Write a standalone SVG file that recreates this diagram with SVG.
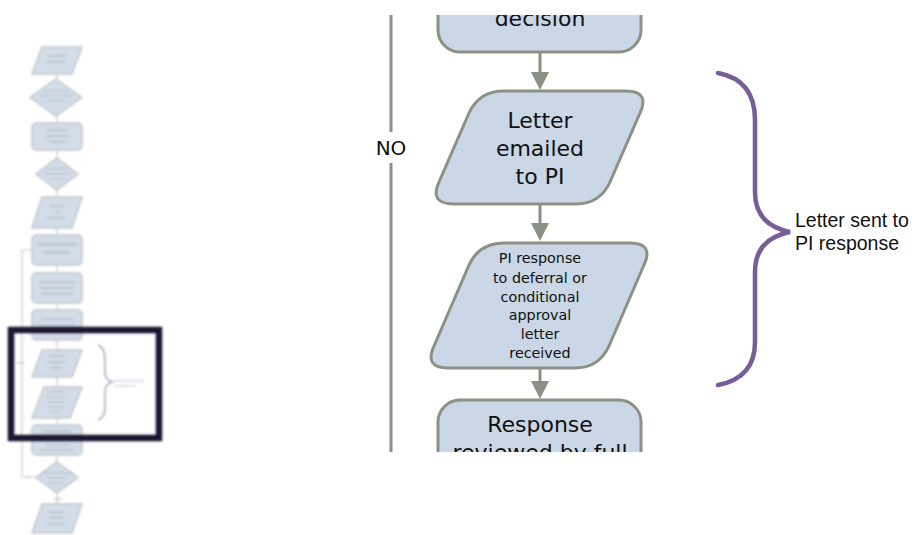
<svg xmlns="http://www.w3.org/2000/svg" width="924" height="535" viewBox="0 0 924 535">
<defs>
<style>
.node{fill:#c9d7e6;stroke:#8b9184;stroke-width:3}
.wire{stroke:#8b9184;stroke-width:3;fill:none}
.head{fill:#8b9184}
.big{font-family:"DejaVu Sans",Verdana,sans-serif;font-size:22px;fill:#111;text-anchor:middle}
.small{font-family:"DejaVu Sans",Verdana,sans-serif;font-size:14.3px;fill:#111;text-anchor:middle}
.lbl{font-family:"DejaVu Sans",Verdana,sans-serif;font-size:20px;fill:#111;text-anchor:middle}
.note{font-family:"Liberation Sans",Arial,sans-serif;font-size:19.5px;fill:#111}
.brace{fill:none;stroke:#775e99;stroke-width:4.5;stroke-linecap:round}
.tn{fill:#d3dde9;stroke:#c0c7ca;stroke-width:1.5}
.tw{stroke:#c8ccc6;stroke-width:1.2;fill:none}
.sm{fill:#a3aebb}
</style>
<clipPath id="view"><rect x="360" y="15" width="320" height="437"/></clipPath>
<filter id="blur" x="-10%" y="-10%" width="120%" height="120%"><feGaussianBlur stdDeviation="1"/></filter>
<filter id="blur2" x="-10%" y="-10%" width="120%" height="120%"><feGaussianBlur stdDeviation="0.9"/></filter>
</defs>
<rect width="924" height="535" fill="#ffffff"/>

<!-- thumbnail overview -->
<g id="thumbnail" filter="url(#blur)">
<g class="tw">
<path d="M57 74V79M57 116V123M57 150V158M57 190V197M57 228V235M57 265V273M57 303V310M57 340V350M57 377V387M57 418V425M57 455V462M57 493V504"/>
<path d="M37 477H22V250H32"/>
</g>
<path class="tn" d="M42 47H82L72 74H32Z"/>
<path class="tn" d="M56 79L82 97.5L56 116L30 97.5Z"/>
<rect class="tn" x="32" y="123" width="50" height="27" rx="4"/>
<path class="tn" d="M57 158L78 174L57 190L36 174Z"/>
<path class="tn" d="M42 197H82L72 228H32Z"/>
<rect class="tn" x="32" y="235" width="50" height="30" rx="4"/>
<rect class="tn" x="32" y="273" width="50" height="30" rx="4"/>
<rect class="tn" x="32" y="310" width="50" height="30" rx="4"/>
<path class="tn" d="M42 350H82L72 377H32Z"/>
<path class="tn" d="M44 387H82L70 418H32Z"/>
<rect class="tn" x="32" y="425" width="50" height="30" rx="4"/>
<path class="tn" d="M57 462L78 477.5L57 493L36 477.5Z"/>
<path class="tn" d="M42 504H82L72 533H32Z"/>
<g class="sm" opacity="0.45">
<rect x="48" y="55" width="18" height="2"/><rect x="46" y="61" width="20" height="2"/>
<rect x="43" y="90" width="26" height="1.5"/><rect x="40" y="95" width="32" height="1.5"/><rect x="47" y="100" width="18" height="1.5"/>
<rect x="47" y="129" width="20" height="2"/><rect x="45" y="135" width="24" height="2"/><rect x="49" y="141" width="16" height="2"/>
<rect x="47" y="168" width="20" height="1.5"/><rect x="44" y="173" width="26" height="1.5"/><rect x="49" y="178" width="16" height="1.5"/>
<rect x="50" y="205" width="14" height="2"/><rect x="55" y="211" width="4" height="2"/><rect x="47" y="217" width="18" height="2"/>
<rect x="37" y="243" width="40" height="3"/><rect x="44" y="251" width="26" height="3"/>
<rect x="39" y="281" width="36" height="2"/><rect x="40" y="287" width="34" height="2"/><rect x="41" y="293" width="32" height="2"/>
<rect x="41" y="318" width="32" height="2"/><rect x="39" y="324" width="36" height="2"/>
<rect x="49" y="355" width="16" height="2"/><rect x="47" y="361" width="18" height="2"/><rect x="50" y="367" width="12" height="2"/>
<rect x="48" y="391" width="16" height="1.5"/><rect x="46" y="396" width="20" height="1.5"/><rect x="47" y="401" width="18" height="1.5"/><rect x="49" y="406" width="14" height="1.5"/><rect x="50" y="411" width="10" height="1.5"/>
<rect x="43" y="430" width="28" height="2.5"/><rect x="46" y="444" width="22" height="2"/><rect x="40" y="449" width="34" height="2"/>
<rect x="41" y="472" width="32" height="1.5"/><rect x="47" y="477" width="20" height="1.5"/><rect x="48" y="482" width="16" height="1.5"/>
<rect x="48" y="511" width="16" height="2"/><rect x="49" y="517" width="14" height="2"/><rect x="47" y="523" width="18" height="2"/>
<rect x="17" y="362" width="7" height="2"/><rect x="53" y="498" width="9" height="2"/><rect x="25" y="476" width="6" height="1.5"/>
<rect x="114" y="380" width="30" height="1.5"/><rect x="114" y="385" width="22" height="1.5"/>
</g>
<path d="M98 345Q105 347 105 360V372Q105 380 112 382Q105 384 105 392V406Q105 418 98 420" fill="none" stroke="#ada2bb" stroke-width="1.5"/>
</g>
<rect id="frame" x="11" y="330" width="148" height="108" fill="none" stroke="#1b1331" stroke-width="6.5" filter="url(#blur2)"/>

<!-- zoomed view -->
<g clip-path="url(#view)">
<g id="connectors">
<path class="wire" d="M391 15V132M391 163V452"/>
<path class="wire" d="M540 52V74M540 204V224M540 368V382"/>
<path class="head" d="M531 72H549L540 90Z"/>
<path class="head" d="M531 223H549L540 241Z"/>
<path class="head" d="M531 381H549L540 399Z"/>
<text class="lbl" x="391" y="155">NO</text>
</g>
<g id="node-decision">
<rect class="node" x="438" y="-60" width="203" height="112" rx="22"/>
<text class="big" x="540" y="26">decision</text>
</g>
<g id="node-letter-emailed">
<path class="node" d="M504 91H626Q650 91 640 113L610 182Q600 204 576 204H454Q429 204 439 182L469 113Q479 91 504 91Z"/>
<text class="big" x="540" y="128">Letter</text>
<text class="big" x="540" y="156">emailed</text>
<text class="big" x="540" y="184">to PI</text>
</g>
<g id="node-pi-response">
<path class="node" d="M504 243H630Q654 243 644 265L609 346Q599 368 575 368H448Q424 368 434 346L469 265Q479 243 504 243Z"/>
<text class="small" x="540" y="263">PI response</text>
<text class="small" x="540" y="283">to deferral or</text>
<text class="small" x="540" y="302">conditional</text>
<text class="small" x="540" y="320">approval</text>
<text class="small" x="540" y="339">letter</text>
<text class="small" x="540" y="358">received</text>
</g>
<g id="node-response-reviewed">
<rect class="node" x="438" y="400" width="203" height="112" rx="22"/>
<text class="big" x="540" y="432">Response</text>
<text class="big" x="540" y="460">reviewed by full</text>
</g>
</g>

<g id="brace-note">
<path class="brace" d="M718 73Q755 80 755 120V192Q755 225 790 232Q755 239 755 272V342Q755 378 718 385"/>
<text class="note" x="795" y="227">Letter sent to</text>
<text class="note" x="795" y="250">PI response</text>
</g>
</svg>
